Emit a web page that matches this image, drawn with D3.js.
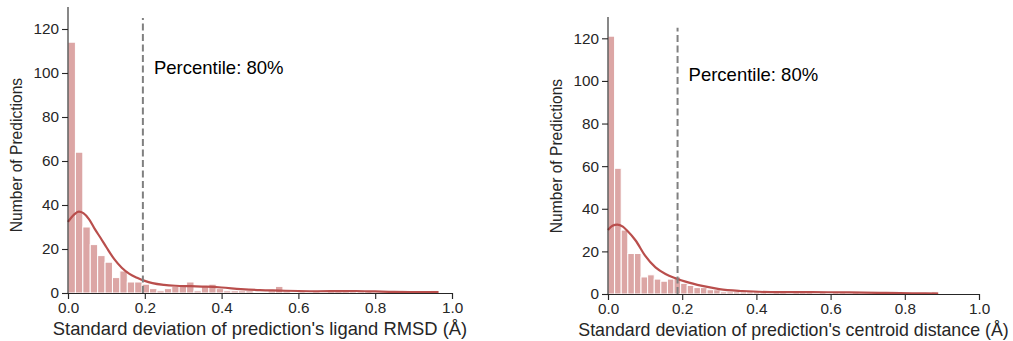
<!DOCTYPE html>
<html>
<head>
<meta charset="utf-8">
<script src="https://cdn.jsdelivr.net/npm/d3@7"></script>
<style>
  body { margin: 0; background: #fff; }
  text { font-family: "Liberation Sans", Arial, sans-serif; fill: #262626; }
</style>
</head>
<body>
<div id="chart"></div>
<script>
// histogram counts, 50 equal bins from 0 to the max value
var rmsdCounts = [114, 64, 30, 22, 17, 14, 7, 10, 5, 5, 4, 2, 1, 2, 3, 3, 5, 1, 3, 4,
                  2, 1, 1, 1, 1, 0, 0, 1, 3, 1, 0, 1, 0, 1, 0, 1, 1, 1, 1, 1,
                  1, 0, 0, 0, 0, 1, 0, 0, 0, 1];
var centroidCounts = [121, 59, 30, 19, 19, 8, 9, 7, 6, 7, 8, 5, 4, 3, 3, 2, 2, 1, 1, 1,
                      1, 1, 1, 1, 0, 1, 1, 0, 1, 1, 1, 0, 1, 0, 1, 1, 0, 1, 0, 0,
                      1, 0, 0, 1, 0, 0, 0, 0, 0, 1];
var rmsdMax = 0.965;
var centroidMax = 0.89;

// kde curve (x, count scale)
var rmsdKdeX = [0, 0.015, 0.028, 0.04, 0.055, 0.07, 0.085, 0.1, 0.12, 0.14, 0.16, 0.18, 0.2, 0.22, 0.25,
                0.28, 0.32, 0.36, 0.4, 0.45, 0.5, 0.55, 0.6, 0.65, 0.7, 0.75, 0.8, 0.85, 0.9, 0.965];
var rmsdKdeY = [32.3, 35.5, 37, 36.3, 33.5, 29, 25, 20.8, 15.5, 11.5, 8.7, 6.9, 5.5, 4.5, 3.7,
                3.3, 3.1, 2.9, 2.5, 1.8, 1.3, 1.1, 0.9, 0.8, 0.85, 0.9, 0.7, 0.5, 0.45, 0.4];
var centroidKdeX = [0, 0.012, 0.025, 0.04, 0.052, 0.075, 0.1, 0.128, 0.155, 0.182, 0.209, 0.254, 0.3,
                    0.362, 0.438, 0.55, 0.65, 0.75, 0.82, 0.89];
var centroidKdeY = [30, 32, 32.6, 31.6, 29.7, 25, 18, 12.5, 9.4, 7.4, 5.8, 3.8, 2.3,
                    1.4, 0.9, 0.85, 0.75, 0.5, 0.35, 0.2];

var percentile = [0.195, 0.1875];
var xTicks = [0, 0.2, 0.4, 0.6, 0.8, 1.0];
var yTicks = [0, 20, 40, 60, 80, 100, 120];
var xLabels = ["Standard deviation of prediction's ligand RMSD (\u00c5)",
               "Standard deviation of prediction's centroid distance (\u00c5)"];

var w = 1013, h = 341;
var barColor = "#b94e4c";

var svg = d3.select("#chart").append("svg")
            .attr("width", w)
            .attr("height", h);

function drawPanel(box, counts, maxVal, kdeX, kdeY, pct, xLabel) {
  var g = svg.append("g");
  var xScale = d3.scaleLinear().domain([0, 1]).range([box.left, box.right]);
  var yScale = d3.scaleLinear().domain([0, 130]).range([box.bottom, box.top]);
  var binW = maxVal / counts.length;

  g.selectAll("rect")
   .data(counts)
   .enter()
   .append("rect")
   .attr("x", function(d, i) { return xScale(i * binW); })
   .attr("width", function(d, i) { return xScale((i + 1) * binW) - xScale(i * binW); })
   .attr("y", function(d) { return yScale(d); })
   .attr("height", function(d) { return yScale(0) - yScale(d); })
   .attr("fill", barColor)
   .attr("fill-opacity", 0.5)
   .attr("stroke", "#fff")
   .attr("stroke-width", 1);

  var line = d3.line()
               .x(function(d, i) { return xScale(kdeX[i]); })
               .y(function(d) { return yScale(d); })
               .curve(d3.curveMonotoneX);

  g.append("path")
   .datum(kdeY)
   .attr("d", line)
   .attr("fill", "none")
   .attr("stroke", barColor)
   .attr("stroke-width", 2.2);

  g.append("line")
   .attr("x1", xScale(pct)).attr("x2", xScale(pct))
   .attr("y1", yScale(0)).attr("y2", yScale(125))
   .attr("stroke", "#808080")
   .attr("stroke-width", 2)
   .attr("stroke-dasharray", "7,3.5");

  g.append("text")
   .attr("x", xScale(pct) + 11)
   .attr("y", yScale(100) + 0.5)
   .attr("font-size", "18.5px")
   .style("fill", "#000")
   .text("Percentile: 80%");

  var xAxis = d3.axisBottom(xScale)
                .tickValues(xTicks)
                .tickFormat(d3.format(".1f"))
                .tickSizeOuter(0)
                .tickSize(6)
                .tickPadding(3.5);
  var yAxis = d3.axisLeft(yScale)
                .tickValues(yTicks)
                .tickSizeOuter(0)
                .tickSize(6)
                .tickPadding(3);

  var gx = g.append("g")
            .attr("transform", "translate(0," + box.bottom + ")")
            .call(xAxis);
  var gy = g.append("g")
            .attr("transform", "translate(" + box.left + ",0)")
            .call(yAxis);
  gy.select(".domain").attr("d", "M0," + box.bottom + "V" + box.top);

  [gx, gy].forEach(function(a) {
    a.selectAll(".domain").attr("stroke", "#262626").attr("stroke-width", 1.1);
    a.selectAll(".tick line").attr("stroke", "#262626").attr("stroke-width", 1.1);
    a.selectAll("text").attr("font-size", "15.3px").attr("font-family", null).attr("fill", null);
  });

  g.append("text")
   .attr("x", (box.left + box.right) / 2)
   .attr("y", box.bottom + 42)
   .attr("text-anchor", "middle")
   .attr("font-size", box.xLabelSize)
   .text(xLabel);

  g.append("text")
   .attr("transform", "translate(" + box.yLabelX + "," + box.yLabelY + ") rotate(-90)")
   .attr("text-anchor", "middle")
   .attr("dy", "0.35em")
   .attr("font-size", "15.6px")
   .text("Number of Predictions");
}

drawPanel({left: 68, right: 452, top: 7, bottom: 293, yLabelX: 17, yLabelY: 155, xLabelSize: "18.4px"},
          rmsdCounts, rmsdMax, rmsdKdeX, rmsdKdeY, percentile[0], xLabels[0]);
drawPanel({left: 608, right: 979, top: 17, bottom: 294, yLabelX: 557, yLabelY: 156, xLabelSize: "17.8px"},
          centroidCounts, centroidMax, centroidKdeX, centroidKdeY, percentile[1], xLabels[1]);
</script>
</body>
</html>
